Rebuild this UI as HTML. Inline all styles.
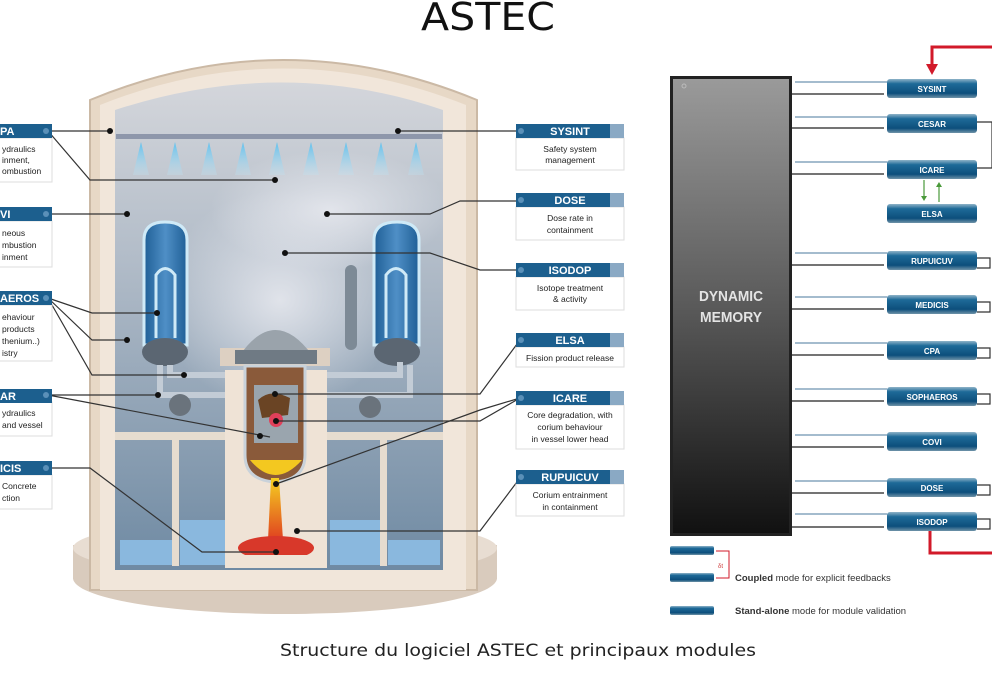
<!DOCTYPE html>
<html><head><meta charset="utf-8"><style>
body{margin:0;background:#fff;width:992px;height:680px;overflow:hidden;font-family:"Liberation Sans",sans-serif}
</style></head><body>
<svg width="992" height="680" viewBox="0 0 992 680" xmlns="http://www.w3.org/2000/svg" font-family="Liberation Sans, sans-serif">
<defs>
<linearGradient id="mem" x1="0" y1="0" x2="0" y2="1"><stop offset="0" stop-color="#9a9a9a"/><stop offset="0.5" stop-color="#5a5a5a"/><stop offset="1" stop-color="#111"/></linearGradient>
<linearGradient id="bar" x1="0" y1="0" x2="0" y2="1"><stop offset="0" stop-color="#8fb3c8"/><stop offset="0.25" stop-color="#1e6a98"/><stop offset="0.75" stop-color="#0d4f7c"/><stop offset="1" stop-color="#6f93a8"/></linearGradient>
<linearGradient id="inner" x1="0" y1="0" x2="0" y2="1"><stop offset="0" stop-color="#d4d6db"/><stop offset="0.35" stop-color="#b3bdc9"/><stop offset="1" stop-color="#6f8aa3"/></linearGradient>
<linearGradient id="sg" x1="0" y1="0" x2="1" y2="0"><stop offset="0" stop-color="#1f5f96"/><stop offset="0.5" stop-color="#4f8fc6"/><stop offset="1" stop-color="#1f5f96"/></linearGradient>
<linearGradient id="spray" x1="0" y1="0" x2="0" y2="1"><stop offset="0" stop-color="#5ec0ee"/><stop offset="1" stop-color="#bfe2f2" stop-opacity="0.3"/></linearGradient>
<linearGradient id="lava" x1="0" y1="0" x2="0" y2="1"><stop offset="0" stop-color="#f5d020"/><stop offset="1" stop-color="#e04020"/></linearGradient>
<radialGradient id="mist" cx="0.5" cy="0.5" r="0.5"><stop offset="0" stop-color="#e6e8ee" stop-opacity="0.9"/><stop offset="1" stop-color="#e6e8ee" stop-opacity="0"/></radialGradient>
</defs>

<text x="488" y="30" font-size="38" text-anchor="middle" fill="#111" font-family="DejaVu Sans, sans-serif" textLength="134" lengthAdjust="spacingAndGlyphs">ASTEC</text>

<!-- reactor building -->
<ellipse cx="285" cy="578" rx="212" ry="36" fill="#d9cbbd"/>
<rect x="73" y="545" width="424" height="34" fill="#d9cbbd"/>
<ellipse cx="285" cy="548" rx="212" ry="30" fill="#e8ddd2"/>
<path d="M90 590 L90 100 Q283 20 477 100 L477 590 Z" fill="#e7d8c6" stroke="#cbb9a5" stroke-width="2"/>
<path d="M100 590 L100 105 Q283 32 466 105 L466 590 Z" fill="#f1e6da"/>
<path d="M115 570 L115 110 Q283 55 443 110 L443 570 Z" fill="url(#inner)"/>
<ellipse cx="280" cy="300" rx="120" ry="110" fill="url(#mist)"/>
<ellipse cx="330" cy="210" rx="120" ry="60" fill="url(#mist)"/>
<!-- spray bar -->
<rect x="116" y="134" width="326" height="5" fill="#8e97ab"/>
<g fill="url(#spray)">
<path d="M141 142 L133 175 L149 175Z"/><path d="M175 142 L167 175 L183 175Z"/><path d="M209 142 L201 175 L217 175Z"/><path d="M243 142 L235 175 L251 175Z"/><path d="M277 142 L269 175 L285 175Z"/><path d="M311 142 L303 175 L319 175Z"/><path d="M346 142 L338 175 L354 175Z"/><path d="M381 142 L373 175 L389 175Z"/><path d="M416 142 L408 175 L424 175Z"/>
</g>
<!-- steam generators -->
<g stroke="#cfeaf7" stroke-width="3">
<path d="M144 240 Q144 222 165 222 Q187 222 187 240 L187 345 L144 345 Z" fill="url(#sg)"/>
<path d="M374 240 Q374 222 397 222 Q419 222 419 240 L419 345 L374 345 Z" fill="url(#sg)"/>
</g>
<path d="M156 338 L156 275 Q165 262 175 275 L175 338" stroke="#cfeaf7" stroke-width="3" fill="none"/>
<path d="M386 338 L386 275 Q396 262 406 275 L406 338" stroke="#cfeaf7" stroke-width="3" fill="none"/>
<ellipse cx="165" cy="352" rx="23" ry="14" fill="#5b6672"/>
<ellipse cx="397" cy="352" rx="23" ry="14" fill="#5b6672"/>
<rect x="345" y="265" width="12" height="85" rx="6" fill="#7d8a96"/>
<!-- pipes -->
<g stroke="#c3ccd6" stroke-width="6" fill="none">
<path d="M160 365 L160 395 L230 395"/><path d="M170 365 L170 375 L230 375"/>
<path d="M320 375 L400 375 L400 362"/><path d="M320 395 L410 395 L410 365"/>
</g>
<circle cx="180" cy="405" r="11" fill="#6a737c"/><circle cx="370" cy="407" r="11" fill="#6a737c"/>
<!-- compartments -->
<rect x="115" y="432" width="328" height="8" fill="#e6dccf"/>
<g fill="#e6dccf"><rect x="172" y="438" width="7" height="128"/><rect x="380" y="438" width="7" height="128"/></g>
<rect x="180" y="520" width="45" height="45" fill="#8ab8de"/><rect x="330" y="520" width="50" height="45" fill="#8ab8de"/>
<rect x="120" y="540" width="52" height="25" fill="#8ab8de"/><rect x="388" y="540" width="52" height="25" fill="#8ab8de"/>
<!-- vessel cavity -->
<rect x="225" y="370" width="102" height="198" fill="#efe3d6"/>
<rect x="220" y="348" width="110" height="18" fill="#ddd0c2"/>
<path d="M240 355 Q275 305 312 355 Z" fill="#9aa3ab"/>
<rect x="235" y="350" width="82" height="14" fill="#6f7a84"/>
<path d="M245 366 L305 366 L305 455 Q305 480 275 482 Q245 480 245 455 Z" fill="#8a5a3a" stroke="#c9d2da" stroke-width="3"/>
<rect x="254" y="385" width="44" height="58" fill="#9aa5ae"/>
<path d="M258 400 Q270 388 290 398 L288 415 L262 418Z" fill="#6a4424"/>
<circle cx="276" cy="420" r="7" fill="#e0405a"/>
<path d="M250 460 Q275 490 302 460 Z" fill="#f3c820"/>
<path d="M271 478 L279 478 L283 540 L268 540 Z" fill="url(#lava)"/>
<ellipse cx="276" cy="548" rx="38" ry="12" fill="#d8382a"/>
<rect x="238" y="555" width="80" height="12" fill="#efe3d6"/>

<!-- leader lines left -->
<g stroke="#333" stroke-width="1.2" fill="none">
<path d="M48 131 L110 131"/><path d="M48 131 L90 180 L275 180"/>
<path d="M48 214 L127 214"/>
<path d="M48 298 L92 313 L157 313"/><path d="M48 298 L92 340 L127 340"/><path d="M48 298 L92 375 L184 375"/>
<path d="M48 395 L158 395"/><path d="M48 395 L270 437"/>
<path d="M48 468 L90 468 L202 552 L276 552"/>
</g>
<!-- leader lines center -->
<g stroke="#333" stroke-width="1.2" fill="none">
<path d="M398 131 L520 131"/>
<path d="M327 214 L430 214 L460 201 L520 201"/>
<path d="M285 253 L430 253 L480 270 L520 270"/>
<path d="M275 394 L480 394 L520 340"/>
<path d="M276 421 L480 421 L520 398"/><path d="M276 484 L480 410 L520 398"/>
<path d="M297 531 L480 531 L520 478"/>
</g>
<g fill="#111">
<circle cx="110" cy="131" r="3"/><circle cx="275" cy="180" r="3"/><circle cx="127" cy="214" r="3"/><circle cx="157" cy="313" r="3"/><circle cx="127" cy="340" r="3"/><circle cx="184" cy="375" r="3"/><circle cx="158" cy="395" r="3"/><circle cx="260" cy="436" r="3"/><circle cx="276" cy="552" r="3"/>
<circle cx="398" cy="131" r="3"/><circle cx="327" cy="214" r="3"/><circle cx="285" cy="253" r="3"/><circle cx="275" cy="394" r="3"/><circle cx="276" cy="421" r="3"/><circle cx="276" cy="484" r="3"/><circle cx="297" cy="531" r="3"/>
</g>

<!-- left labels -->
<g font-size="8.5" fill="#222">
<rect x="-4" y="138" width="56" height="44" fill="#fff" stroke="#ddd"/><rect x="-4" y="124" width="56" height="14" fill="#1c5f8e"/><text x="0" y="135" fill="#fff" font-weight="bold" font-size="11">PA</text>
<text x="2" y="152">ydraulics</text><text x="2" y="163">inment,</text><text x="2" y="174">ombustion</text>
<rect x="-4" y="221" width="56" height="46" fill="#fff" stroke="#ddd"/><rect x="-4" y="207" width="56" height="14" fill="#1c5f8e"/><text x="0" y="218" fill="#fff" font-weight="bold" font-size="11">VI</text>
<text x="2" y="236">neous</text><text x="2" y="248">mbustion</text><text x="2" y="260">inment</text>
<rect x="-4" y="305" width="56" height="56" fill="#fff" stroke="#ddd"/><rect x="-4" y="291" width="56" height="14" fill="#1c5f8e"/><text x="0" y="302" fill="#fff" font-weight="bold" font-size="11">AEROS</text>
<text x="2" y="320">ehaviour</text><text x="2" y="332">products</text><text x="2" y="344">thenium..)</text><text x="2" y="356">istry</text>
<rect x="-4" y="402" width="56" height="34" fill="#fff" stroke="#ddd"/><rect x="-4" y="389" width="56" height="14" fill="#1c5f8e"/><text x="0" y="400" fill="#fff" font-weight="bold" font-size="11">AR</text>
<text x="2" y="416">ydraulics</text><text x="2" y="428">and vessel</text>
<rect x="-4" y="475" width="56" height="34" fill="#fff" stroke="#ddd"/><rect x="-4" y="461" width="56" height="14" fill="#1c5f8e"/><text x="0" y="472" fill="#fff" font-weight="bold" font-size="11">ICIS</text>
<text x="2" y="489">Concrete</text><text x="2" y="501">ction</text>
</g>
<g fill="#5a90b8"><circle cx="46" cy="131" r="3"/><circle cx="46" cy="214" r="3"/><circle cx="46" cy="298" r="3"/><circle cx="46" cy="395" r="3"/><circle cx="46" cy="468" r="3"/></g>

<!-- center labels -->
<g font-size="8.5" fill="#222" text-anchor="middle">
<rect x="516" y="138" width="108" height="32" fill="#fff" stroke="#ddd"/><rect x="516" y="124" width="108" height="14" fill="#1c5f8e"/><rect x="610" y="124" width="14" height="14" fill="#8aa9c4"/><text x="570" y="135" fill="#fff" font-weight="bold" font-size="11">SYSINT</text>
<text x="570" y="152">Safety system</text><text x="570" y="163">management</text>
<rect x="516" y="207" width="108" height="33" fill="#fff" stroke="#ddd"/><rect x="516" y="193" width="108" height="14" fill="#1c5f8e"/><rect x="610" y="193" width="14" height="14" fill="#8aa9c4"/><text x="570" y="204" fill="#fff" font-weight="bold" font-size="11">DOSE</text>
<text x="570" y="221">Dose rate in</text><text x="570" y="233">containment</text>
<rect x="516" y="277" width="108" height="33" fill="#fff" stroke="#ddd"/><rect x="516" y="263" width="108" height="14" fill="#1c5f8e"/><rect x="610" y="263" width="14" height="14" fill="#8aa9c4"/><text x="570" y="274" fill="#fff" font-weight="bold" font-size="11">ISODOP</text>
<text x="570" y="291">Isotope treatment</text><text x="570" y="302">&amp; activity</text>
<rect x="516" y="347" width="108" height="20" fill="#fff" stroke="#ddd"/><rect x="516" y="333" width="108" height="14" fill="#1c5f8e"/><rect x="610" y="333" width="14" height="14" fill="#8aa9c4"/><text x="570" y="344" fill="#fff" font-weight="bold" font-size="11">ELSA</text>
<text x="570" y="361">Fission product release</text>
<rect x="516" y="405" width="108" height="44" fill="#fff" stroke="#ddd"/><rect x="516" y="391" width="108" height="14" fill="#1c5f8e"/><rect x="610" y="391" width="14" height="14" fill="#8aa9c4"/><text x="570" y="402" fill="#fff" font-weight="bold" font-size="11">ICARE</text>
<text x="570" y="418">Core degradation, with</text><text x="570" y="430">corium behaviour</text><text x="570" y="442">in vessel lower head</text>
<rect x="516" y="484" width="108" height="32" fill="#fff" stroke="#ddd"/><rect x="516" y="470" width="108" height="14" fill="#1c5f8e"/><rect x="610" y="470" width="14" height="14" fill="#8aa9c4"/><text x="570" y="481" fill="#fff" font-weight="bold" font-size="11">RUPUICUV</text>
<text x="570" y="498">Corium entrainment</text><text x="570" y="510">in containment</text>
</g>
<g fill="#5a90b8"><circle cx="521" cy="131" r="3"/><circle cx="521" cy="200" r="3"/><circle cx="521" cy="270" r="3"/><circle cx="521" cy="340" r="3"/><circle cx="521" cy="398" r="3"/><circle cx="521" cy="477" r="3"/></g>

<!-- dynamic memory -->
<rect x="670" y="76" width="122" height="460" fill="#222"/>
<rect x="673" y="79" width="116" height="454" fill="url(#mem)"/>
<circle cx="684" cy="86" r="2" fill="none" stroke="#bbb"/>
<text x="731" y="301" font-size="15" font-weight="bold" fill="#e4e4e4" text-anchor="middle" textLength="64" lengthAdjust="spacingAndGlyphs">DYNAMIC</text>
<text x="731" y="322" font-size="15" font-weight="bold" fill="#e4e4e4" text-anchor="middle" textLength="62" lengthAdjust="spacingAndGlyphs">MEMORY</text>

<g font-size="8" font-weight="bold" fill="#fff" text-anchor="middle">
<rect x="887" y="79" width="90" height="19" rx="3" fill="url(#bar)"/><text x="932" y="92">SYSINT</text>
<rect x="887" y="114" width="90" height="19" rx="3" fill="url(#bar)"/><text x="932" y="127">CESAR</text>
<rect x="887" y="160" width="90" height="19" rx="3" fill="url(#bar)"/><text x="932" y="173">ICARE</text>
<rect x="887" y="204" width="90" height="19" rx="3" fill="url(#bar)"/><text x="932" y="217">ELSA</text>
<rect x="887" y="251" width="90" height="19" rx="3" fill="url(#bar)"/><text x="932" y="264">RUPUICUV</text>
<rect x="887" y="295" width="90" height="19" rx="3" fill="url(#bar)"/><text x="932" y="308">MEDICIS</text>
<rect x="887" y="341" width="90" height="19" rx="3" fill="url(#bar)"/><text x="932" y="354">CPA</text>
<rect x="887" y="387" width="90" height="19" rx="3" fill="url(#bar)"/><text x="932" y="400">SOPHAEROS</text>
<rect x="887" y="432" width="90" height="19" rx="3" fill="url(#bar)"/><text x="932" y="445">COVI</text>
<rect x="887" y="478" width="90" height="19" rx="3" fill="url(#bar)"/><text x="932" y="491">DOSE</text>
<rect x="887" y="512" width="90" height="19" rx="3" fill="url(#bar)"/><text x="932" y="525">ISODOP</text>
</g>
<!-- arrows memory-modules -->
<g stroke-width="1.2">
<g stroke="#6d93b0">
<line x1="795" y1="82" x2="887" y2="82"/><line x1="795" y1="117" x2="887" y2="117"/><line x1="795" y1="162" x2="887" y2="162"/><line x1="795" y1="253" x2="887" y2="253"/><line x1="795" y1="297" x2="887" y2="297"/><line x1="795" y1="343" x2="887" y2="343"/><line x1="795" y1="389" x2="887" y2="389"/><line x1="795" y1="435" x2="887" y2="435"/><line x1="795" y1="481" x2="887" y2="481"/><line x1="795" y1="514" x2="887" y2="514"/>
</g>
<g stroke="#222">
<line x1="792" y1="94" x2="884" y2="94"/><line x1="792" y1="128" x2="884" y2="128"/><line x1="792" y1="174" x2="884" y2="174"/><line x1="792" y1="265" x2="884" y2="265"/><line x1="792" y1="309" x2="884" y2="309"/><line x1="792" y1="355" x2="884" y2="355"/><line x1="792" y1="401" x2="884" y2="401"/><line x1="792" y1="447" x2="884" y2="447"/><line x1="792" y1="493" x2="884" y2="493"/><line x1="792" y1="527" x2="884" y2="527"/>
</g>
<g stroke="#333" fill="none">
<path d="M977 122 L992 122 L992 168 L977 168"/>
<path d="M977 258 L990 258 L990 268 L977 268"/><path d="M977 302 L990 302 L990 312 L977 312"/><path d="M977 348 L990 348 L990 358 L977 358"/><path d="M977 394 L990 394 L990 404 L977 404"/><path d="M977 485 L990 485 L990 495 L977 495"/><path d="M977 519 L990 519 L990 529 L977 529"/>
</g>
<g stroke="#4a9a3a"><line x1="924" y1="180" x2="924" y2="197"/><line x1="939" y1="187" x2="939" y2="202"/></g>
</g>
<g fill="#4a9a3a"><path d="M921 196 L927 196 L924 201Z"/><path d="M936 187 L942 187 L939 182Z"/></g>
<!-- red lines -->
<path d="M992 47 L932 47 L932 66" stroke="#d21a2a" stroke-width="3" fill="none"/>
<path d="M926 64 L938 64 L932 75Z" fill="#d21a2a"/>
<path d="M930 531 L930 553 L992 553" stroke="#d21a2a" stroke-width="3" fill="none"/>

<!-- legend -->
<rect x="670" y="546" width="44" height="9" rx="2" fill="url(#bar)"/>
<rect x="670" y="573" width="44" height="9" rx="2" fill="url(#bar)"/>
<path d="M716 551 L729 551 L729 578 L716 578" stroke="#d21a2a" stroke-width="1" fill="none"/>
<text x="718" y="568" font-size="6" fill="#c33">δt</text>
<text x="735" y="581" font-size="9.5" fill="#333"><tspan font-weight="bold">Coupled</tspan> mode for explicit feedbacks</text>
<rect x="670" y="606" width="44" height="9" rx="2" fill="url(#bar)"/>
<text x="735" y="614" font-size="9.5" fill="#333"><tspan font-weight="bold">Stand-alone</tspan> mode for module validation</text>

<text x="518" y="656" font-size="17" text-anchor="middle" fill="#222" font-family="DejaVu Sans, sans-serif" textLength="476" lengthAdjust="spacingAndGlyphs">Structure du logiciel ASTEC et principaux modules</text>
</svg>
</body></html>
